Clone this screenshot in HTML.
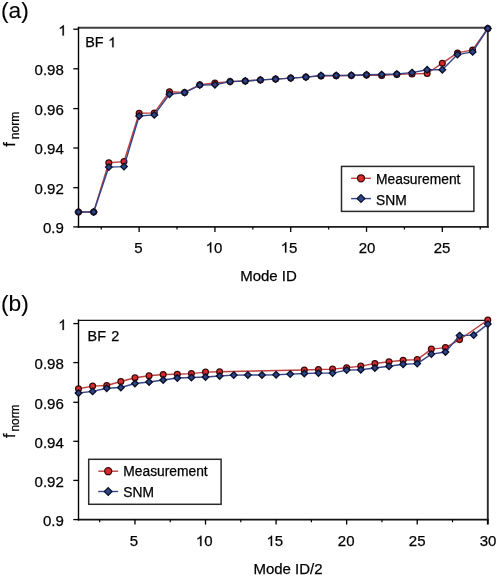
<!DOCTYPE html>
<html><head><meta charset="utf-8"><style>
html,body{margin:0;padding:0;background:#fff;width:498px;height:576px;overflow:hidden}
svg{display:block;will-change:transform}
text{font-family:"Liberation Sans", sans-serif;stroke:#000;stroke-width:0.25px}
</style></head><body>
<svg width="498" height="576" viewBox="0 0 498 576" font-family='"Liberation Sans", sans-serif' fill="#000">
<line x1="77.8" y1="27.8" x2="488.7" y2="27.8" stroke="#404040" stroke-width="2.0"/>
<line x1="77.8" y1="226.9" x2="488.7" y2="226.9" stroke="#1a1a1a" stroke-width="1.8"/>
<line x1="78.5" y1="26.900000000000002" x2="78.5" y2="227.8" stroke="#000" stroke-width="1.4"/>
<line x1="487.8" y1="26.900000000000002" x2="487.8" y2="227.8" stroke="#2a2a2a" stroke-width="1.9"/>
<line x1="73.3" y1="29.2" x2="78.5" y2="29.2" stroke="#000" stroke-width="1.3"/>
<text x="58.26" y="35.50" font-size="15" xml:space="preserve"> </text><path d="M63.85 35.50L62.53 35.50L62.53 27.46Q62.05 27.89 61.28 28.33Q60.50 28.76 59.88 28.98L59.88 27.76Q60.99 27.26 61.82 26.55Q62.64 25.85 62.99 25.18L63.85 25.18Z" stroke="#000" stroke-width="0.25"/>
<line x1="73.3" y1="68.8" x2="78.5" y2="68.8" stroke="#000" stroke-width="1.3"/>
<text x="63.80" y="75.10" text-anchor="end" font-size="15">0.98</text>
<line x1="73.3" y1="108.6" x2="78.5" y2="108.6" stroke="#000" stroke-width="1.3"/>
<text x="63.80" y="114.90" text-anchor="end" font-size="15">0.96</text>
<line x1="73.3" y1="148.0" x2="78.5" y2="148.0" stroke="#000" stroke-width="1.3"/>
<text x="63.80" y="154.30" text-anchor="end" font-size="15">0.94</text>
<line x1="73.3" y1="187.7" x2="78.5" y2="187.7" stroke="#000" stroke-width="1.3"/>
<text x="63.80" y="194.00" text-anchor="end" font-size="15">0.92</text>
<line x1="73.3" y1="226.9" x2="78.5" y2="226.9" stroke="#000" stroke-width="1.3"/>
<text x="63.80" y="233.20" text-anchor="end" font-size="15">0.9</text>
<line x1="139.14" y1="226.9" x2="139.14" y2="231.9" stroke="#000" stroke-width="1.3"/>
<text x="138.39" y="252.60" text-anchor="middle" font-size="15">5</text>
<line x1="214.93" y1="226.9" x2="214.93" y2="231.9" stroke="#000" stroke-width="1.3"/>
<text x="205.69" y="252.60" font-size="15" xml:space="preserve"> 0</text><path d="M211.28 252.60L209.96 252.60L209.96 244.56Q209.48 244.99 208.71 245.43Q207.93 245.86 207.32 246.08L207.32 244.86Q208.42 244.36 209.25 243.65Q210.08 242.95 210.42 242.28L211.28 242.28Z" stroke="#000" stroke-width="0.25"/>
<line x1="290.73" y1="226.9" x2="290.73" y2="231.9" stroke="#000" stroke-width="1.3"/>
<text x="280.74" y="252.60" font-size="15" xml:space="preserve"> 5</text><path d="M286.33 252.60L285.01 252.60L285.01 244.56Q284.53 244.99 283.75 245.43Q282.98 245.86 282.36 246.08L282.36 244.86Q283.47 244.36 284.30 243.65Q285.12 242.95 285.47 242.28L286.33 242.28Z" stroke="#000" stroke-width="0.25"/>
<line x1="366.53" y1="226.9" x2="366.53" y2="231.9" stroke="#000" stroke-width="1.3"/>
<text x="366.98" y="252.60" text-anchor="middle" font-size="15">20</text>
<line x1="442.32" y1="226.9" x2="442.32" y2="231.9" stroke="#000" stroke-width="1.3"/>
<text x="442.12" y="252.60" text-anchor="middle" font-size="15">25</text>
<line x1="101.24" y1="226.9" x2="101.24" y2="229.5" stroke="#000" stroke-width="1.2"/>
<line x1="177.04" y1="226.9" x2="177.04" y2="229.5" stroke="#000" stroke-width="1.2"/>
<line x1="252.83" y1="226.9" x2="252.83" y2="229.5" stroke="#000" stroke-width="1.2"/>
<line x1="328.63" y1="226.9" x2="328.63" y2="229.5" stroke="#000" stroke-width="1.2"/>
<line x1="404.42" y1="226.9" x2="404.42" y2="229.5" stroke="#000" stroke-width="1.2"/>
<line x1="480.22" y1="226.9" x2="480.22" y2="229.5" stroke="#000" stroke-width="1.2"/>
<path d="M78.50 212.00L93.66 212.00L108.82 162.80L123.98 161.60L139.14 113.30L154.30 112.90L169.46 91.70L184.61 92.40L199.77 84.80L214.93 83.00L230.09 81.60L245.25 81.00L260.41 79.90L275.57 79.10L290.73 78.10L305.89 77.10L321.05 75.90L336.21 75.70L351.37 75.50L366.53 75.10L381.69 75.50L396.84 74.40L412.00 73.90L427.16 73.50L442.32 63.20L457.48 52.90L472.64 49.90L487.80 28.50" fill="none" stroke="#bc4242" stroke-width="1.45" stroke-linejoin="round"/>
<circle cx="78.50" cy="212.00" r="2.9" fill="#d82a2a" stroke="#3a0808" stroke-width="1.25"/>
<circle cx="93.66" cy="212.00" r="2.9" fill="#d82a2a" stroke="#3a0808" stroke-width="1.25"/>
<circle cx="108.82" cy="162.80" r="2.9" fill="#d82a2a" stroke="#3a0808" stroke-width="1.25"/>
<circle cx="123.98" cy="161.60" r="2.9" fill="#d82a2a" stroke="#3a0808" stroke-width="1.25"/>
<circle cx="139.14" cy="113.30" r="2.9" fill="#d82a2a" stroke="#3a0808" stroke-width="1.25"/>
<circle cx="154.30" cy="112.90" r="2.9" fill="#d82a2a" stroke="#3a0808" stroke-width="1.25"/>
<circle cx="169.46" cy="91.70" r="2.9" fill="#d82a2a" stroke="#3a0808" stroke-width="1.25"/>
<circle cx="184.61" cy="92.40" r="2.9" fill="#d82a2a" stroke="#3a0808" stroke-width="1.25"/>
<circle cx="199.77" cy="84.80" r="2.9" fill="#d82a2a" stroke="#3a0808" stroke-width="1.25"/>
<circle cx="214.93" cy="83.00" r="2.9" fill="#d82a2a" stroke="#3a0808" stroke-width="1.25"/>
<circle cx="230.09" cy="81.60" r="2.9" fill="#d82a2a" stroke="#3a0808" stroke-width="1.25"/>
<circle cx="245.25" cy="81.00" r="2.9" fill="#d82a2a" stroke="#3a0808" stroke-width="1.25"/>
<circle cx="260.41" cy="79.90" r="2.9" fill="#d82a2a" stroke="#3a0808" stroke-width="1.25"/>
<circle cx="275.57" cy="79.10" r="2.9" fill="#d82a2a" stroke="#3a0808" stroke-width="1.25"/>
<circle cx="290.73" cy="78.10" r="2.9" fill="#d82a2a" stroke="#3a0808" stroke-width="1.25"/>
<circle cx="305.89" cy="77.10" r="2.9" fill="#d82a2a" stroke="#3a0808" stroke-width="1.25"/>
<circle cx="321.05" cy="75.90" r="2.9" fill="#d82a2a" stroke="#3a0808" stroke-width="1.25"/>
<circle cx="336.21" cy="75.70" r="2.9" fill="#d82a2a" stroke="#3a0808" stroke-width="1.25"/>
<circle cx="351.37" cy="75.50" r="2.9" fill="#d82a2a" stroke="#3a0808" stroke-width="1.25"/>
<circle cx="366.53" cy="75.10" r="2.9" fill="#d82a2a" stroke="#3a0808" stroke-width="1.25"/>
<circle cx="381.69" cy="75.50" r="2.9" fill="#d82a2a" stroke="#3a0808" stroke-width="1.25"/>
<circle cx="396.84" cy="74.40" r="2.9" fill="#d82a2a" stroke="#3a0808" stroke-width="1.25"/>
<circle cx="412.00" cy="73.90" r="2.9" fill="#d82a2a" stroke="#3a0808" stroke-width="1.25"/>
<circle cx="427.16" cy="73.50" r="2.9" fill="#d82a2a" stroke="#3a0808" stroke-width="1.25"/>
<circle cx="442.32" cy="63.20" r="2.9" fill="#d82a2a" stroke="#3a0808" stroke-width="1.25"/>
<circle cx="457.48" cy="52.90" r="2.9" fill="#d82a2a" stroke="#3a0808" stroke-width="1.25"/>
<circle cx="472.64" cy="49.90" r="2.9" fill="#d82a2a" stroke="#3a0808" stroke-width="1.25"/>
<circle cx="487.80" cy="28.50" r="2.9" fill="#d82a2a" stroke="#3a0808" stroke-width="1.25"/>
<path d="M78.50 212.00L93.66 212.00L108.82 167.10L123.98 166.60L139.14 116.00L154.30 114.90L169.46 94.30L184.61 92.60L199.77 85.10L214.93 84.70L230.09 81.60L245.25 81.00L260.41 79.90L275.57 79.10L290.73 78.10L305.89 77.10L321.05 75.50L336.21 75.50L351.37 75.30L366.53 74.70L381.69 74.50L396.84 74.00L412.00 72.60L427.16 69.80L442.32 69.70L457.48 54.60L472.64 51.90L487.80 28.50" fill="none" stroke="#384688" stroke-width="1.45" stroke-linejoin="round"/>
<path d="M78.50 208.70L81.80 212.00L78.50 215.30L75.20 212.00Z" fill="#2c4585" stroke="#0a0f2a" stroke-width="1.3"/>
<path d="M93.66 208.70L96.96 212.00L93.66 215.30L90.36 212.00Z" fill="#2c4585" stroke="#0a0f2a" stroke-width="1.3"/>
<path d="M108.82 163.80L112.12 167.10L108.82 170.40L105.52 167.10Z" fill="#2c4585" stroke="#0a0f2a" stroke-width="1.3"/>
<path d="M123.98 163.30L127.28 166.60L123.98 169.90L120.68 166.60Z" fill="#2c4585" stroke="#0a0f2a" stroke-width="1.3"/>
<path d="M139.14 112.70L142.44 116.00L139.14 119.30L135.84 116.00Z" fill="#2c4585" stroke="#0a0f2a" stroke-width="1.3"/>
<path d="M154.30 111.60L157.60 114.90L154.30 118.20L151.00 114.90Z" fill="#2c4585" stroke="#0a0f2a" stroke-width="1.3"/>
<path d="M169.46 91.00L172.76 94.30L169.46 97.60L166.16 94.30Z" fill="#2c4585" stroke="#0a0f2a" stroke-width="1.3"/>
<path d="M184.61 89.30L187.91 92.60L184.61 95.90L181.31 92.60Z" fill="#2c4585" stroke="#0a0f2a" stroke-width="1.3"/>
<path d="M199.77 81.80L203.07 85.10L199.77 88.40L196.47 85.10Z" fill="#2c4585" stroke="#0a0f2a" stroke-width="1.3"/>
<path d="M214.93 81.40L218.23 84.70L214.93 88.00L211.63 84.70Z" fill="#2c4585" stroke="#0a0f2a" stroke-width="1.3"/>
<path d="M230.09 78.30L233.39 81.60L230.09 84.90L226.79 81.60Z" fill="#2c4585" stroke="#0a0f2a" stroke-width="1.3"/>
<path d="M245.25 77.70L248.55 81.00L245.25 84.30L241.95 81.00Z" fill="#2c4585" stroke="#0a0f2a" stroke-width="1.3"/>
<path d="M260.41 76.60L263.71 79.90L260.41 83.20L257.11 79.90Z" fill="#2c4585" stroke="#0a0f2a" stroke-width="1.3"/>
<path d="M275.57 75.80L278.87 79.10L275.57 82.40L272.27 79.10Z" fill="#2c4585" stroke="#0a0f2a" stroke-width="1.3"/>
<path d="M290.73 74.80L294.03 78.10L290.73 81.40L287.43 78.10Z" fill="#2c4585" stroke="#0a0f2a" stroke-width="1.3"/>
<path d="M305.89 73.80L309.19 77.10L305.89 80.40L302.59 77.10Z" fill="#2c4585" stroke="#0a0f2a" stroke-width="1.3"/>
<path d="M321.05 72.20L324.35 75.50L321.05 78.80L317.75 75.50Z" fill="#2c4585" stroke="#0a0f2a" stroke-width="1.3"/>
<path d="M336.21 72.20L339.51 75.50L336.21 78.80L332.91 75.50Z" fill="#2c4585" stroke="#0a0f2a" stroke-width="1.3"/>
<path d="M351.37 72.00L354.67 75.30L351.37 78.60L348.07 75.30Z" fill="#2c4585" stroke="#0a0f2a" stroke-width="1.3"/>
<path d="M366.53 71.40L369.83 74.70L366.53 78.00L363.23 74.70Z" fill="#2c4585" stroke="#0a0f2a" stroke-width="1.3"/>
<path d="M381.69 71.20L384.99 74.50L381.69 77.80L378.39 74.50Z" fill="#2c4585" stroke="#0a0f2a" stroke-width="1.3"/>
<path d="M396.84 70.70L400.14 74.00L396.84 77.30L393.54 74.00Z" fill="#2c4585" stroke="#0a0f2a" stroke-width="1.3"/>
<path d="M412.00 69.30L415.30 72.60L412.00 75.90L408.70 72.60Z" fill="#2c4585" stroke="#0a0f2a" stroke-width="1.3"/>
<path d="M427.16 66.50L430.46 69.80L427.16 73.10L423.86 69.80Z" fill="#2c4585" stroke="#0a0f2a" stroke-width="1.3"/>
<path d="M442.32 66.40L445.62 69.70L442.32 73.00L439.02 69.70Z" fill="#2c4585" stroke="#0a0f2a" stroke-width="1.3"/>
<path d="M457.48 51.30L460.78 54.60L457.48 57.90L454.18 54.60Z" fill="#2c4585" stroke="#0a0f2a" stroke-width="1.3"/>
<path d="M472.64 48.60L475.94 51.90L472.64 55.20L469.34 51.90Z" fill="#2c4585" stroke="#0a0f2a" stroke-width="1.3"/>
<path d="M487.80 25.20L491.10 28.50L487.80 31.80L484.50 28.50Z" fill="#2c4585" stroke="#0a0f2a" stroke-width="1.3"/>
<text x="1" y="17.9" font-size="22.8" style="stroke-width:0.1px">(a)</text>
<text x="85.2" y="47.3" font-size="14.4">BF</text>
<path d="M113.54 47.30L112.26 47.30L112.26 39.47Q111.79 39.90 111.04 40.32Q110.28 40.74 109.68 40.95L109.68 39.77Q110.76 39.28 111.56 38.59Q112.37 37.90 112.71 37.26L113.54 37.26Z" stroke="#000" stroke-width="0.25"/>
<text x="268.5" y="281.2" text-anchor="middle" font-size="15">Mode ID</text>
<text transform="translate(14.6 146.8) rotate(-90)" font-size="16.3">f</text>
<text transform="translate(18.7 139.2) rotate(-90)" font-size="12.1">norm</text>
<rect x="341.5" y="166.4" width="132.4" height="45" fill="#fff" stroke="#2a2a2a" stroke-width="1.5"/>
<line x1="351.1" y1="178.3" x2="370.9" y2="178.3" stroke="#bc4242" stroke-width="1.4"/>
<circle cx="361.0" cy="178.3" r="3.5" fill="#d82a2a" stroke="#3a0808" stroke-width="1.3"/>
<line x1="351.1" y1="198.60000000000002" x2="370.9" y2="198.60000000000002" stroke="#384688" stroke-width="1.4"/>
<path d="M361.0 194.70000000000002L364.9 198.60000000000002L361.0 202.50000000000003L357.1 198.60000000000002Z" fill="#2c4585" stroke="#0a0f2a" stroke-width="1.2"/>
<text x="376.1" y="183.5" font-size="13.8">Measurement</text>
<text x="376.1" y="204.5" font-size="13.8">SNM</text>
<line x1="77.8" y1="320.4" x2="488.7" y2="320.4" stroke="#111" stroke-width="1.35"/>
<line x1="77.8" y1="519.6" x2="488.7" y2="519.6" stroke="#111" stroke-width="1.7"/>
<line x1="78.5" y1="319.5" x2="78.5" y2="520.5" stroke="#000" stroke-width="1.4"/>
<line x1="487.8" y1="319.5" x2="487.8" y2="524.4" stroke="#2a2a2a" stroke-width="1.9"/>
<line x1="73.3" y1="323.6" x2="78.5" y2="323.6" stroke="#000" stroke-width="1.3"/>
<text x="58.26" y="329.90" font-size="15" xml:space="preserve"> </text><path d="M63.85 329.90L62.53 329.90L62.53 321.86Q62.05 322.29 61.28 322.73Q60.50 323.16 59.88 323.38L59.88 322.16Q60.99 321.66 61.82 320.95Q62.64 320.25 62.99 319.58L63.85 319.58Z" stroke="#000" stroke-width="0.25"/>
<line x1="73.3" y1="362.6" x2="78.5" y2="362.6" stroke="#000" stroke-width="1.3"/>
<text x="63.80" y="368.90" text-anchor="end" font-size="15">0.98</text>
<line x1="73.3" y1="402.3" x2="78.5" y2="402.3" stroke="#000" stroke-width="1.3"/>
<text x="63.80" y="408.60" text-anchor="end" font-size="15">0.96</text>
<line x1="73.3" y1="441.3" x2="78.5" y2="441.3" stroke="#000" stroke-width="1.3"/>
<text x="63.80" y="447.60" text-anchor="end" font-size="15">0.94</text>
<line x1="73.3" y1="480.4" x2="78.5" y2="480.4" stroke="#000" stroke-width="1.3"/>
<text x="63.80" y="486.70" text-anchor="end" font-size="15">0.92</text>
<line x1="73.3" y1="519.6" x2="78.5" y2="519.6" stroke="#000" stroke-width="1.3"/>
<text x="63.80" y="525.90" text-anchor="end" font-size="15">0.9</text>
<line x1="134.96" y1="519.6" x2="134.96" y2="524.6" stroke="#000" stroke-width="1.3"/>
<text x="133.91" y="546.00" text-anchor="middle" font-size="15">5</text>
<line x1="205.52" y1="519.6" x2="205.52" y2="524.6" stroke="#000" stroke-width="1.3"/>
<text x="195.88" y="546.00" font-size="15" xml:space="preserve"> 0</text><path d="M201.47 546.00L200.15 546.00L200.15 537.96Q199.68 538.39 198.90 538.83Q198.12 539.26 197.51 539.48L197.51 538.26Q198.61 537.76 199.44 537.05Q200.27 536.35 200.61 535.68L201.47 535.68Z" stroke="#000" stroke-width="0.25"/>
<line x1="276.09" y1="519.6" x2="276.09" y2="524.6" stroke="#000" stroke-width="1.3"/>
<text x="266.50" y="546.00" font-size="15" xml:space="preserve"> 5</text><path d="M272.09 546.00L270.77 546.00L270.77 537.96Q270.29 538.39 269.52 538.83Q268.74 539.26 268.13 539.48L268.13 538.26Q269.23 537.76 270.06 537.05Q270.89 536.35 271.23 535.68L272.09 535.68Z" stroke="#000" stroke-width="0.25"/>
<line x1="346.66" y1="519.6" x2="346.66" y2="524.6" stroke="#000" stroke-width="1.3"/>
<text x="346.21" y="546.00" text-anchor="middle" font-size="15">20</text>
<line x1="417.23" y1="519.6" x2="417.23" y2="524.6" stroke="#000" stroke-width="1.3"/>
<text x="417.18" y="546.00" text-anchor="middle" font-size="15">25</text>
<line x1="487.80" y1="519.6" x2="487.80" y2="524.6" stroke="#000" stroke-width="1.3"/>
<text x="488.05" y="546.00" text-anchor="middle" font-size="15">30</text>
<line x1="99.67" y1="519.6" x2="99.67" y2="522.2" stroke="#000" stroke-width="1.2"/>
<line x1="170.24" y1="519.6" x2="170.24" y2="522.2" stroke="#000" stroke-width="1.2"/>
<line x1="240.81" y1="519.6" x2="240.81" y2="522.2" stroke="#000" stroke-width="1.2"/>
<line x1="311.38" y1="519.6" x2="311.38" y2="522.2" stroke="#000" stroke-width="1.2"/>
<line x1="381.95" y1="519.6" x2="381.95" y2="522.2" stroke="#000" stroke-width="1.2"/>
<line x1="452.52" y1="519.6" x2="452.52" y2="522.2" stroke="#000" stroke-width="1.2"/>
<path d="M78.50 388.80L92.61 386.10L106.73 385.50L120.84 381.50L134.96 377.80L149.07 375.80L163.18 374.50L177.30 374.20L191.41 373.60L205.52 372.10L219.64 371.80L304.32 370.00L318.43 369.50L332.55 369.10L346.66 367.70L360.78 366.10L374.89 363.50L389.00 361.80L403.12 360.20L417.23 359.60L431.34 349.10L445.46 347.60L459.57 339.60L487.80 320.00" fill="none" stroke="#bc4242" stroke-width="1.45" stroke-linejoin="round"/>
<circle cx="78.50" cy="388.80" r="2.9" fill="#d82a2a" stroke="#3a0808" stroke-width="1.25"/>
<circle cx="92.61" cy="386.10" r="2.9" fill="#d82a2a" stroke="#3a0808" stroke-width="1.25"/>
<circle cx="106.73" cy="385.50" r="2.9" fill="#d82a2a" stroke="#3a0808" stroke-width="1.25"/>
<circle cx="120.84" cy="381.50" r="2.9" fill="#d82a2a" stroke="#3a0808" stroke-width="1.25"/>
<circle cx="134.96" cy="377.80" r="2.9" fill="#d82a2a" stroke="#3a0808" stroke-width="1.25"/>
<circle cx="149.07" cy="375.80" r="2.9" fill="#d82a2a" stroke="#3a0808" stroke-width="1.25"/>
<circle cx="163.18" cy="374.50" r="2.9" fill="#d82a2a" stroke="#3a0808" stroke-width="1.25"/>
<circle cx="177.30" cy="374.20" r="2.9" fill="#d82a2a" stroke="#3a0808" stroke-width="1.25"/>
<circle cx="191.41" cy="373.60" r="2.9" fill="#d82a2a" stroke="#3a0808" stroke-width="1.25"/>
<circle cx="205.52" cy="372.10" r="2.9" fill="#d82a2a" stroke="#3a0808" stroke-width="1.25"/>
<circle cx="219.64" cy="371.80" r="2.9" fill="#d82a2a" stroke="#3a0808" stroke-width="1.25"/>
<circle cx="304.32" cy="370.00" r="2.9" fill="#d82a2a" stroke="#3a0808" stroke-width="1.25"/>
<circle cx="318.43" cy="369.50" r="2.9" fill="#d82a2a" stroke="#3a0808" stroke-width="1.25"/>
<circle cx="332.55" cy="369.10" r="2.9" fill="#d82a2a" stroke="#3a0808" stroke-width="1.25"/>
<circle cx="346.66" cy="367.70" r="2.9" fill="#d82a2a" stroke="#3a0808" stroke-width="1.25"/>
<circle cx="360.78" cy="366.10" r="2.9" fill="#d82a2a" stroke="#3a0808" stroke-width="1.25"/>
<circle cx="374.89" cy="363.50" r="2.9" fill="#d82a2a" stroke="#3a0808" stroke-width="1.25"/>
<circle cx="389.00" cy="361.80" r="2.9" fill="#d82a2a" stroke="#3a0808" stroke-width="1.25"/>
<circle cx="403.12" cy="360.20" r="2.9" fill="#d82a2a" stroke="#3a0808" stroke-width="1.25"/>
<circle cx="417.23" cy="359.60" r="2.9" fill="#d82a2a" stroke="#3a0808" stroke-width="1.25"/>
<circle cx="431.34" cy="349.10" r="2.9" fill="#d82a2a" stroke="#3a0808" stroke-width="1.25"/>
<circle cx="445.46" cy="347.60" r="2.9" fill="#d82a2a" stroke="#3a0808" stroke-width="1.25"/>
<circle cx="459.57" cy="339.60" r="2.9" fill="#d82a2a" stroke="#3a0808" stroke-width="1.25"/>
<circle cx="487.80" cy="320.00" r="2.9" fill="#d82a2a" stroke="#3a0808" stroke-width="1.25"/>
<path d="M78.50 393.00L92.61 391.40L106.73 388.30L120.84 387.50L134.96 383.50L149.07 382.00L163.18 380.00L177.30 378.00L191.41 377.50L205.52 377.00L219.64 376.00L233.75 375.10L247.87 375.00L261.98 375.00L276.09 374.80L290.21 374.10L304.32 373.50L318.43 373.10L332.55 373.10L346.66 370.10L360.78 369.70L374.89 368.00L389.00 366.20L403.12 364.20L417.23 363.60L431.34 354.10L445.46 352.00L459.57 335.60L473.69 335.10L487.80 324.10" fill="none" stroke="#384688" stroke-width="1.45" stroke-linejoin="round"/>
<path d="M78.50 389.70L81.80 393.00L78.50 396.30L75.20 393.00Z" fill="#2c4585" stroke="#0a0f2a" stroke-width="1.3"/>
<path d="M92.61 388.10L95.91 391.40L92.61 394.70L89.31 391.40Z" fill="#2c4585" stroke="#0a0f2a" stroke-width="1.3"/>
<path d="M106.73 385.00L110.03 388.30L106.73 391.60L103.43 388.30Z" fill="#2c4585" stroke="#0a0f2a" stroke-width="1.3"/>
<path d="M120.84 384.20L124.14 387.50L120.84 390.80L117.54 387.50Z" fill="#2c4585" stroke="#0a0f2a" stroke-width="1.3"/>
<path d="M134.96 380.20L138.26 383.50L134.96 386.80L131.66 383.50Z" fill="#2c4585" stroke="#0a0f2a" stroke-width="1.3"/>
<path d="M149.07 378.70L152.37 382.00L149.07 385.30L145.77 382.00Z" fill="#2c4585" stroke="#0a0f2a" stroke-width="1.3"/>
<path d="M163.18 376.70L166.48 380.00L163.18 383.30L159.88 380.00Z" fill="#2c4585" stroke="#0a0f2a" stroke-width="1.3"/>
<path d="M177.30 374.70L180.60 378.00L177.30 381.30L174.00 378.00Z" fill="#2c4585" stroke="#0a0f2a" stroke-width="1.3"/>
<path d="M191.41 374.20L194.71 377.50L191.41 380.80L188.11 377.50Z" fill="#2c4585" stroke="#0a0f2a" stroke-width="1.3"/>
<path d="M205.52 373.70L208.82 377.00L205.52 380.30L202.22 377.00Z" fill="#2c4585" stroke="#0a0f2a" stroke-width="1.3"/>
<path d="M219.64 372.70L222.94 376.00L219.64 379.30L216.34 376.00Z" fill="#2c4585" stroke="#0a0f2a" stroke-width="1.3"/>
<path d="M233.75 371.80L237.05 375.10L233.75 378.40L230.45 375.10Z" fill="#2c4585" stroke="#0a0f2a" stroke-width="1.3"/>
<path d="M247.87 371.70L251.17 375.00L247.87 378.30L244.57 375.00Z" fill="#2c4585" stroke="#0a0f2a" stroke-width="1.3"/>
<path d="M261.98 371.70L265.28 375.00L261.98 378.30L258.68 375.00Z" fill="#2c4585" stroke="#0a0f2a" stroke-width="1.3"/>
<path d="M276.09 371.50L279.39 374.80L276.09 378.10L272.79 374.80Z" fill="#2c4585" stroke="#0a0f2a" stroke-width="1.3"/>
<path d="M290.21 370.80L293.51 374.10L290.21 377.40L286.91 374.10Z" fill="#2c4585" stroke="#0a0f2a" stroke-width="1.3"/>
<path d="M304.32 370.20L307.62 373.50L304.32 376.80L301.02 373.50Z" fill="#2c4585" stroke="#0a0f2a" stroke-width="1.3"/>
<path d="M318.43 369.80L321.73 373.10L318.43 376.40L315.13 373.10Z" fill="#2c4585" stroke="#0a0f2a" stroke-width="1.3"/>
<path d="M332.55 369.80L335.85 373.10L332.55 376.40L329.25 373.10Z" fill="#2c4585" stroke="#0a0f2a" stroke-width="1.3"/>
<path d="M346.66 366.80L349.96 370.10L346.66 373.40L343.36 370.10Z" fill="#2c4585" stroke="#0a0f2a" stroke-width="1.3"/>
<path d="M360.78 366.40L364.08 369.70L360.78 373.00L357.48 369.70Z" fill="#2c4585" stroke="#0a0f2a" stroke-width="1.3"/>
<path d="M374.89 364.70L378.19 368.00L374.89 371.30L371.59 368.00Z" fill="#2c4585" stroke="#0a0f2a" stroke-width="1.3"/>
<path d="M389.00 362.90L392.30 366.20L389.00 369.50L385.70 366.20Z" fill="#2c4585" stroke="#0a0f2a" stroke-width="1.3"/>
<path d="M403.12 360.90L406.42 364.20L403.12 367.50L399.82 364.20Z" fill="#2c4585" stroke="#0a0f2a" stroke-width="1.3"/>
<path d="M417.23 360.30L420.53 363.60L417.23 366.90L413.93 363.60Z" fill="#2c4585" stroke="#0a0f2a" stroke-width="1.3"/>
<path d="M431.34 350.80L434.64 354.10L431.34 357.40L428.04 354.10Z" fill="#2c4585" stroke="#0a0f2a" stroke-width="1.3"/>
<path d="M445.46 348.70L448.76 352.00L445.46 355.30L442.16 352.00Z" fill="#2c4585" stroke="#0a0f2a" stroke-width="1.3"/>
<path d="M459.57 332.30L462.87 335.60L459.57 338.90L456.27 335.60Z" fill="#2c4585" stroke="#0a0f2a" stroke-width="1.3"/>
<path d="M473.69 331.80L476.99 335.10L473.69 338.40L470.39 335.10Z" fill="#2c4585" stroke="#0a0f2a" stroke-width="1.3"/>
<path d="M487.80 320.80L491.10 324.10L487.80 327.40L484.50 324.10Z" fill="#2c4585" stroke="#0a0f2a" stroke-width="1.3"/>
<text x="1" y="310.7" font-size="22.8" style="stroke-width:0.1px">(b)</text>
<text x="87.6" y="341.2" font-size="14.4" word-spacing="1.2">BF 2</text>
<text x="288" y="573.7" text-anchor="middle" font-size="15">Mode ID/2</text>
<text transform="translate(14.6 438.05) rotate(-90)" font-size="16.3">f</text>
<text transform="translate(18.7 431.59999999999997) rotate(-90)" font-size="11.9">norm</text>
<rect x="88.7" y="459.3" width="132.4" height="45" fill="#fff" stroke="#2a2a2a" stroke-width="1.5"/>
<line x1="98.3" y1="471.2" x2="118.1" y2="471.2" stroke="#bc4242" stroke-width="1.4"/>
<circle cx="108.2" cy="471.2" r="3.5" fill="#d82a2a" stroke="#3a0808" stroke-width="1.3"/>
<line x1="98.3" y1="491.5" x2="118.1" y2="491.5" stroke="#384688" stroke-width="1.4"/>
<path d="M108.2 487.6L112.10000000000001 491.5L108.2 495.4L104.3 491.5Z" fill="#2c4585" stroke="#0a0f2a" stroke-width="1.2"/>
<text x="123.30000000000001" y="476.40000000000003" font-size="13.8">Measurement</text>
<text x="123.30000000000001" y="497.40000000000003" font-size="13.8">SNM</text>
</svg>
</body></html>
